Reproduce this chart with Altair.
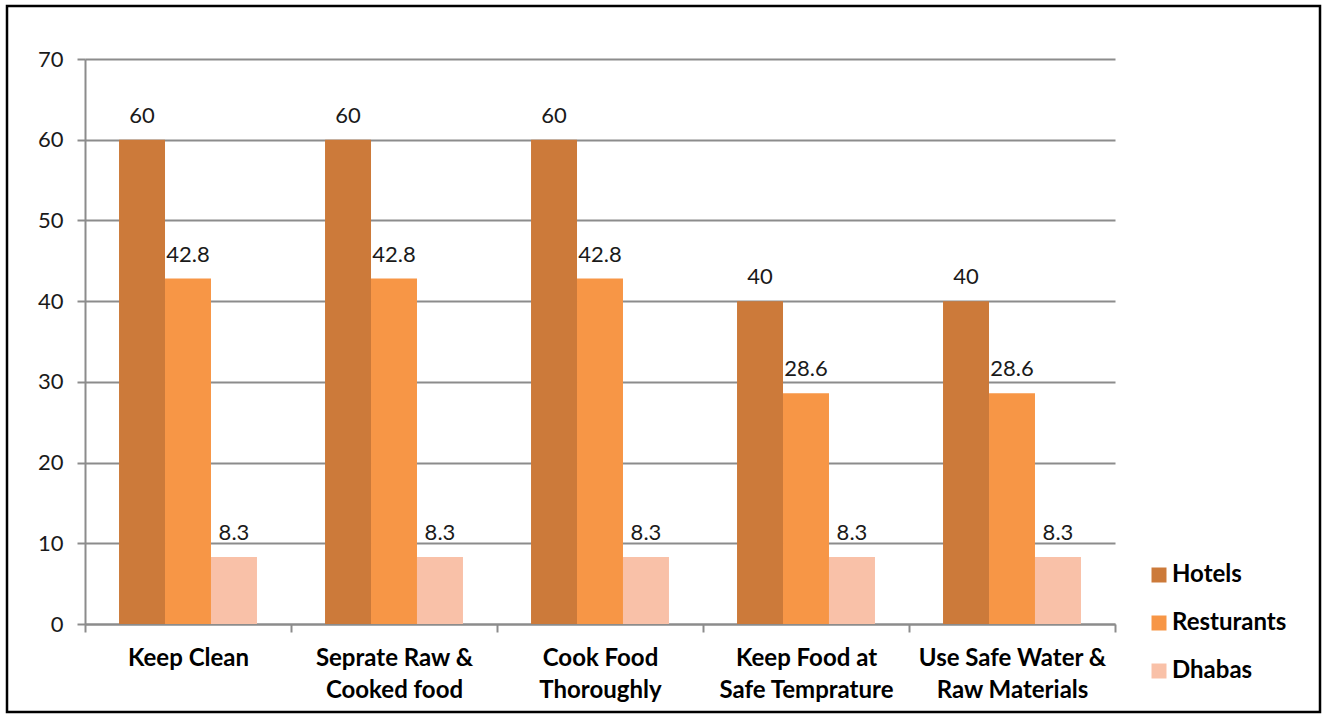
import altair as alt
import pandas as pd

categories = [
    "Keep Clean",
    "Seprate Raw &\nCooked food",
    "Cook Food\nThoroughly",
    "Keep Food at\nSafe Temprature",
    "Use Safe Water &\nRaw Materials",
]
series = ["Hotels", "Resturants", "Dhabas"]
hotels = [60, 60, 60, 40, 40]
resturants = [42.8, 42.8, 42.8, 28.6, 28.6]
dhabas = [8.3, 8.3, 8.3, 8.3, 8.3]
colors = ["#CC7A3A", "#F79646", "#F9C1A8"]

rows = []
for vals, s in zip([hotels, resturants, dhabas], series):
    for c, v in zip(categories, vals):
        rows.append({"category": c, "series": s, "value": v, "label": f"{v:g}"})
df = pd.DataFrame(rows)

FONT = "Lato"

x_enc = alt.X(
    "category:N",
    sort=categories,
    title=None,
    scale=alt.Scale(paddingInner=0, paddingOuter=0),
    axis=alt.Axis(
        labelAngle=0,
        labelExpr="split(datum.label, '\\n')",
        labelFont=FONT,
        labelFontSize=24,
        labelFontWeight="bold",
        labelColor="#000000",
        labelLineHeight=32,
        labelPadding=14,
        labelLimit=400,
        labelOverlap=False,
        tickBand="extent",
        tickSize=8,
        tickColor="#8C8C8C",
        tickWidth=2,
        domainColor="#8C8C8C",
        domainWidth=2,
        grid=False,
    ),
)
xoff_enc = alt.XOffset(
    "series:N", sort=series, scale=alt.Scale(paddingInner=0, paddingOuter=0.74)
)

bars = alt.Chart(df).mark_bar(stroke=None).encode(
    x=x_enc,
    xOffset=xoff_enc,
    y=alt.Y(
        "value:Q",
        title=None,
        scale=alt.Scale(domain=[0, 70], nice=False),
        axis=alt.Axis(
            values=[0, 10, 20, 30, 40, 50, 60, 70],
            labelFont=FONT,
            labelFontSize=22,
            labelColor="#1a1a1a",
            labelPadding=14,
            tickSize=8,
            tickColor="#8C8C8C",
            tickWidth=2,
            domainColor="#8C8C8C",
            domainWidth=2,
            gridColor="#8C8C8C",
            gridWidth=2,
        ),
    ),
    color=alt.Color(
        "series:N",
        sort=series,
        scale=alt.Scale(domain=series, range=colors),
        legend=alt.Legend(
            title=None,
            orient="none",
            legendX=1062,
            legendY=504,
            symbolType="square",
            symbolSize=225,
            symbolStrokeWidth=0,
            symbolOpacity=1,
            labelFont=FONT,
            labelFontSize=24,
            labelFontWeight="bold",
            labelColor="#000000",
            labelOffset=1,
            labelLimit=300,
            rowPadding=24,
            padding=0,
        ),
    ),
)

texts = alt.Chart(df).mark_text(
    font=FONT, fontSize=22, color="#1a1a1a", baseline="alphabetic", dy=-17
).encode(
    x=alt.X("category:N", sort=categories),
    xOffset=alt.XOffset("series:N", sort=series),
    y="value:Q",
    text="label:N",
)

border = alt.Chart(pd.DataFrame({"k": [0]})).mark_rect(
    fill=None, stroke="#000000", strokeWidth=2.5, clip=False
).encode(
    x=alt.value(-78), x2=alt.value(1235), y=alt.value(-53), y2=alt.value(653)
)

chart = (
    alt.layer(bars, texts, border)
    .properties(
        width=1030,
        height=565,
        autosize=alt.AutoSizeParams(type="none"),
        padding={"left": 85, "top": 59, "right": 207, "bottom": 90},
        background="white",
    )
    .configure_view(stroke=None)
)

chart.save("out.html", embed_options={"renderer": "svg", "actions": False})
